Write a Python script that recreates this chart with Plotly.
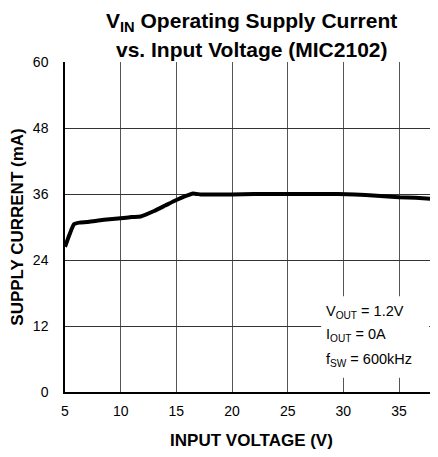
import plotly.graph_objects as go

voltage = [5.0, 5.4, 5.8, 6.3, 7.0, 8.0, 9.0, 10.0, 11.0, 11.8, 13.0, 14.0, 15.0, 15.8,
           16.5, 17.2, 18.0, 20.0, 22.0, 25.0, 28.0, 29.5, 31.0, 33.0, 35.0, 36.5, 38.1]
current = [26.4, 28.6, 30.5, 30.8, 30.9, 31.2, 31.4, 31.6, 31.8, 31.9, 32.9, 33.9, 34.9, 35.6,
           36.1, 35.9, 35.9, 35.9, 36.0, 36.0, 36.0, 36.0, 35.9, 35.7, 35.4, 35.3, 35.1]
x_ticks = [5, 10, 15, 20, 25, 30, 35]
y_ticks = [0, 12, 24, 36, 48, 60]
title_lines = ["<b>V<sub>IN</sub> Operating Supply Current</b>", "<b>vs. Input Voltage (MIC2102)</b>"]
note_lines = ["V<sub>OUT</sub> = 1.2V", "I<sub>OUT</sub> = 0A", "f<sub>SW</sub> = 600kHz"]

FONT = "Liberation Sans, Arial, sans-serif"

fig = go.Figure()
fig.add_trace(go.Scatter(x=voltage, y=current, mode="lines",
                         line=dict(color="black", width=4, shape="spline", smoothing=0.4),
                         showlegend=False, hoverinfo="skip"))

# page body has an 8px margin, so the figure is sized/placed to compensate
fig.update_layout(
    width=430, height=449,
    margin=dict(l=57, r=0, t=54, b=65),
    paper_bgcolor="white", plot_bgcolor="white",
    font=dict(family=FONT, color="black"),
)
fig.update_xaxes(range=[5, 38.5], tickvals=x_ticks, ticktext=[str(v) for v in x_ticks],
                 showgrid=True, gridcolor="#555555", gridwidth=1.3,
                 showline=True, linecolor="black", linewidth=1.5, mirror=False,
                 zeroline=False, ticks="", ticklabelstandoff=5,
                 tickfont=dict(size=14, family=FONT),
                 title=dict(text="<b>INPUT VOLTAGE (V)</b>", font=dict(size=17, family=FONT), standoff=17))
fig.update_yaxes(range=[0, 60], tickvals=y_ticks, ticktext=[str(v) for v in y_ticks],
                 showgrid=True, gridcolor="#333333", gridwidth=1.3,
                 showline=True, linecolor="black", linewidth=1.5,
                 zeroline=False, ticks="", ticklabelstandoff=12,
                 tickfont=dict(size=14, family=FONT),
                 title=dict(text="<b>SUPPLY CURRENT (mA)</b>", font=dict(size=17, family=FONT), standoff=10))

# title as two centered lines
for txt, yy in zip(title_lines, [1.121, 1.039]):
    fig.add_annotation(x=0.5, y=yy, xref="paper", yref="paper", text=txt, showarrow=False,
                       xanchor="center", yanchor="middle", font=dict(size=21, family=FONT, color="black"))

# white box behind the note
fig.add_shape(type="rect", xref="x", yref="y", x0=28.0, x1=37.7, y0=2.6, y1=17.4,
              fillcolor="white", line=dict(width=0), layer="above")
note_y = [14.6, 10.4, 5.9]
for txt, yy in zip(note_lines, note_y):
    fig.add_annotation(x=28.3, y=yy, xref="x", yref="y", text=txt, showarrow=False,
                       xanchor="left", yanchor="middle", font=dict(size=14.5, family=FONT, color="black"))

fig.write_html("out.html")
